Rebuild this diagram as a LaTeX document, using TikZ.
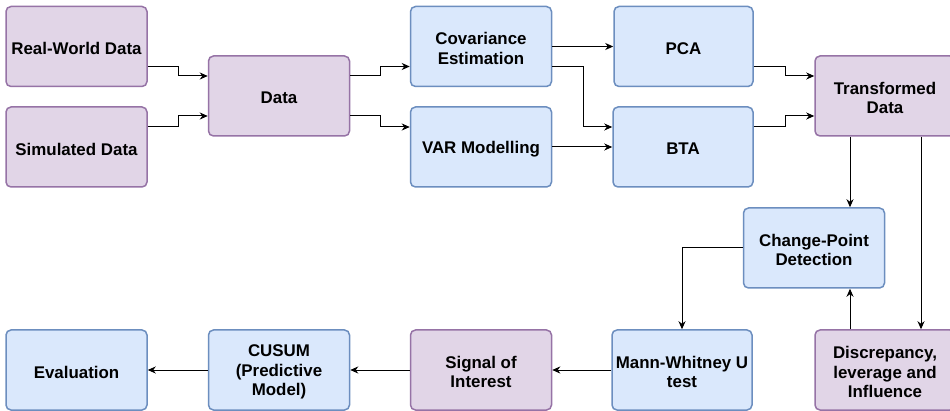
\documentclass[tikz,border=0pt]{standalone}
\usepackage{fontspec}
\setmainfont{Liberation Sans}
\usetikzlibrary{arrows.meta,calc}

\definecolor{purpleFill}{HTML}{E1D5E7}
\definecolor{purpleLine}{HTML}{9673A6}
\definecolor{blueFill}{HTML}{DAE8FC}
\definecolor{blueLine}{HTML}{6C8EBF}

\tikzset{
  box/.style={rectangle, rounded corners=5pt, line width=1.5pt,
    minimum width=141pt, minimum height=80pt, inner sep=0pt},
  pbox/.style={box, fill=purpleFill, draw=purpleLine},
  bbox/.style={box, fill=blueFill, draw=blueLine},
  boxtext/.style={inner sep=0pt, align=center,
    font=\fontsize{16.9}{19.5}\selectfont\bfseries},
  arr/.style={-{Stealth[length=8pt,width=7pt,inset=2.5pt]}, line width=1pt, draw=black}
}

% a rounded box with its caption set slightly below the geometric centre
\newcommand\flowbox[4]{%
  \node[#1] (#2) at (#3) {};
  \node[boxtext] at ([yshift=-2pt]#2.center) {#4};}

\begin{document}
\begin{tikzpicture}[x=1pt,y=-1pt]
  \useasboundingbox (0,0) rectangle (950,411);
  \fill[white] (0,0) rectangle (950,411);

  % first row of inputs and processing steps
  \flowbox{pbox}{rw}{76.5,46.5}{Real-World Data}
  \flowbox{pbox}{sim}{76.5,147}{Simulated Data}
  \flowbox{pbox}{data}{279,96}{Data}
  \flowbox{bbox}{cov}{481,46.5}{Covariance\\Estimation}
  \flowbox{bbox}{var}{481,147}{VAR Modelling}
  \flowbox{bbox, minimum width=139pt}{pca}{683.5,46.5}{PCA}
  \flowbox{bbox, minimum width=140pt}{bta}{683,147}{BTA}
  \flowbox{pbox, minimum width=140pt}{td}{885,96}{Transformed\\Data}

  % detection and output row
  \flowbox{bbox}{cpd}{814,248}{Change-Point\\Detection}
  \flowbox{pbox, minimum width=140pt}{disc}{885,370}{Discrepancy,\\leverage and\\Influence}
  \flowbox{bbox, minimum width=140pt}{mw}{682,370}{Mann-Whitney U\\test}
  \flowbox{pbox}{sig}{481,370}{Signal of\\Interest}
  \flowbox{bbox}{cusum}{279,370}{CUSUM\\(Predictive\\Model)}
  \flowbox{bbox}{eval}{76.5,370}{Evaluation}

  % x positions of the vertical links
  \coordinate (cx) at (850,0);
  \coordinate (dx) at (921,0);

  % elbow connectors between the upper boxes
  \draw[arr] ([yshift=-20pt]rw.east) -- ++(31,0) |- ([yshift=20pt]data.west);
  \draw[arr] ([yshift=20pt]sim.east) -- ++(31,0) |- ([yshift=-20pt]data.west);
  \draw[arr] ([yshift=20pt]data.east) -- ++(30,0) |- ([yshift=-20pt]cov.west);
  \draw[arr] ([yshift=-20pt]data.east) -- ++(30,0) |- ([yshift=20pt]var.west);
  \draw[arr] (cov.east) -- (pca.west);
  \draw[arr] ([yshift=-20pt]cov.east) -- ++(31,0) |- ([yshift=20pt]bta.west);
  \draw[arr] (var.east) -- (bta.west);
  \draw[arr] ([yshift=-20pt]pca.east) -- ++(32,0) |- ([yshift=20pt]td.west);
  \draw[arr] ([yshift=20pt]bta.east) -- ++(32,0) |- ([yshift=-20pt]td.west);

  % vertical links on the right
  \draw[arr] (td.south -| cx) -- (cpd.north -| cx);
  \draw[arr] (td.south -| dx) -- (disc.north -| dx);
  \draw[arr] (disc.north -| cx) -- (cpd.south -| cx);
  \draw[arr] (cpd.west) -| (mw.north);

  % bottom row, right to left
  \draw[arr] (mw.west) -- (sig.east);
  \draw[arr] (sig.west) -- (cusum.east);
  \draw[arr] (cusum.west) -- (eval.east);
\end{tikzpicture}
\end{document}
